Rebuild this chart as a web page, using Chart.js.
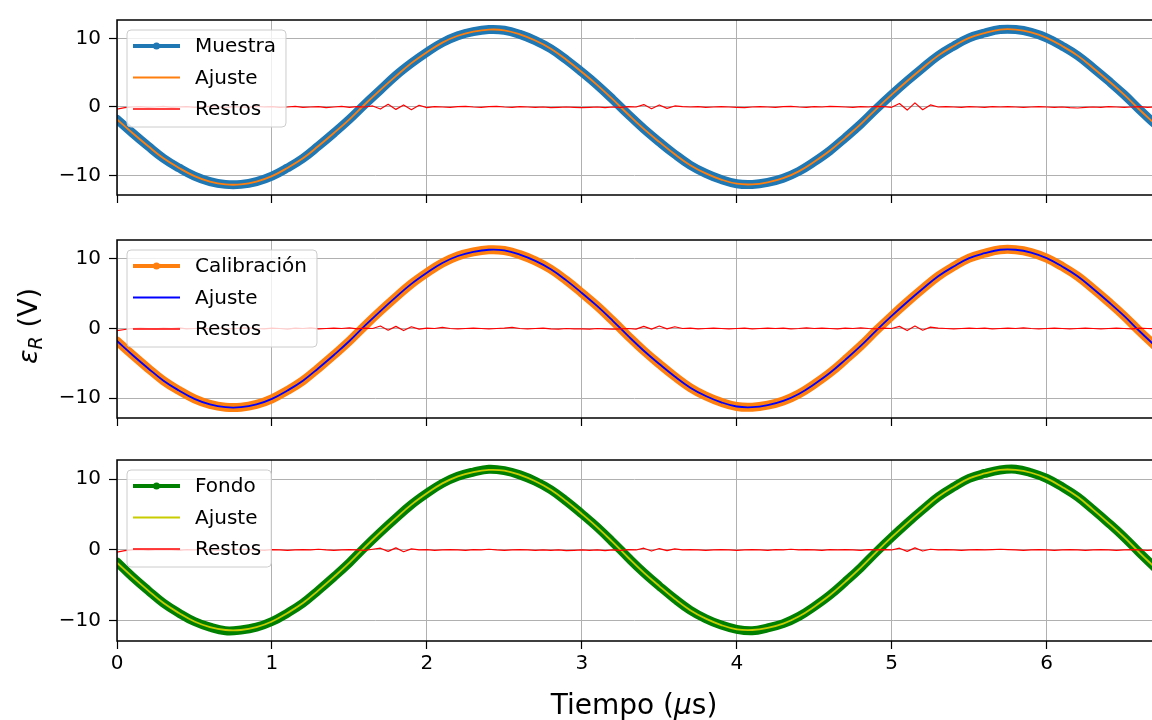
<!DOCTYPE html>
<html>
<head>
<meta charset="utf-8">
<script src="https://cdn.jsdelivr.net/npm/chart.js@4.4.1/dist/chart.umd.min.js"></script>
<style>
  body { margin: 0; background: #fff; }
  #wrap { position: relative; width: 1152px; height: 720px; overflow: hidden; font-family: 'DejaVu Sans', sans-serif; color: #000; }
  canvas { position: absolute; left: 0; }
  #ylabel { position: absolute; left: 29px; top: 326px; transform: translate(-50%, -50%) rotate(-90deg); font-size: 27px; white-space: nowrap; }
  #ylabel sub { font-size: 19px; font-style: italic; vertical-align: -5px; }
  #xlabel { position: absolute; left: 634px; top: 704px; transform: translate(-50%, -50%); font-size: 28px; white-space: nowrap; }
</style>
</head>
<body>
<div id="wrap">
  <canvas id="p1" width="1152" height="215" style="top:0px"></canvas>
  <canvas id="p2" width="1152" height="218" style="top:220px"></canvas>
  <canvas id="p3" width="1152" height="250" style="top:440px"></canvas>
  <div id="ylabel"><i>ε</i><sub>R</sub> (V)</div>
  <div id="xlabel">Tiempo (<i>μ</i>s)</div>
</div>
<script>
// eje x (µs)
const tiempo = [0,0.1,0.2,0.3,0.4,0.5,0.6,0.7,0.8,0.9,1.0,1.1,1.2,1.3,1.4,1.5,1.6,1.7,1.8,1.9,
  2.0,2.1,2.2,2.3,2.4,2.5,2.6,2.7,2.8,2.9,3.0,3.1,3.2,3.3,3.4,3.5,3.6,3.7,3.8,3.9,
  4.0,4.1,4.2,4.3,4.4,4.5,4.6,4.7,4.8,4.9,5.0,5.1,5.2,5.3,5.4,5.5,5.6,5.7,5.8,5.9,
  6.0,6.1,6.2,6.3,6.4,6.5,6.6,6.7];

const tiempoRestos = [0,0.05,0.1,0.15,0.2,0.25,0.3,0.35,0.4,0.45,0.5,0.55,0.6,0.65,0.7,0.75,0.8,0.85,0.9,0.95,
  1.0,1.05,1.1,1.15,1.2,1.25,1.3,1.35,1.4,1.45,1.5,1.55,1.6,1.65,1.7,1.75,1.8,1.85,1.9,1.95,
  2.0,2.05,2.1,2.15,2.2,2.25,2.3,2.35,2.4,2.45,2.5,2.55,2.6,2.65,2.7,2.75,2.8,2.85,2.9,2.95,
  3.0,3.05,3.1,3.15,3.2,3.25,3.3,3.35,3.4,3.45,3.5,3.55,3.6,3.65,3.7,3.75,3.8,3.85,3.9,3.95,
  4.0,4.05,4.1,4.15,4.2,4.25,4.3,4.35,4.4,4.45,4.5,4.55,4.6,4.65,4.7,4.75,4.8,4.85,4.9,4.95,
  5.0,5.05,5.1,5.15,5.2,5.25,5.3,5.35,5.4,5.45,5.5,5.55,5.6,5.65,5.7,5.75,5.8,5.85,5.9,5.95,
  6.0,6.05,6.1,6.15,6.2,6.25,6.3,6.35,6.4,6.45,6.5,6.55,6.6,6.65,6.7];

// señales medidas (V)
const muestra = [-1.8,-3.8,-5.7,-7.5,-8.9,-10.1,-10.9,-11.3,-11.3,-10.9,
  -10.1,-8.9,-7.5,-5.7,-3.8,-1.8,0.4,2.5,4.6,6.4,
  8.0,9.4,10.4,11.0,11.3,11.2,10.6,9.7,8.5,6.9,
  5.1,3.2,1.1,-1.1,-3.2,-5.1,-6.9,-8.5,-9.7,-10.6,
  -11.2,-11.3,-11.0,-10.4,-9.4,-8.0,-6.4,-4.5,-2.5,-0.3,
  1.8,3.8,5.7,7.5,8.9,10.1,10.8,11.3,11.3,10.9,
  10.1,8.9,7.5,5.7,3.8,1.8,-0.4,-2.5];

const calibracion = [-1.8,-3.8,-5.7,-7.5,-8.9,-10.1,-10.9,-11.3,-11.3,-10.9,
  -10.1,-8.9,-7.5,-5.7,-3.8,-1.8,0.4,2.5,4.5,6.4,
  8.0,9.4,10.4,11.0,11.3,11.2,10.6,9.7,8.5,6.9,
  5.1,3.2,1.1,-1.1,-3.2,-5.1,-6.9,-8.5,-9.7,-10.6,
  -11.2,-11.3,-11.0,-10.4,-9.4,-8.0,-6.4,-4.5,-2.5,-0.3,
  1.8,3.8,5.7,7.5,8.9,10.1,10.8,11.3,11.3,10.9,
  10.1,8.9,7.5,5.7,3.8,1.8,-0.4,-2.5];

const fondo = [-1.7,-3.8,-5.7,-7.5,-8.9,-10.1,-10.9,-11.4,-11.3,-10.9,
  -10.1,-8.9,-7.5,-5.7,-3.8,-1.8,0.4,2.5,4.5,6.4,
  8.0,9.4,10.4,11.0,11.4,11.2,10.6,9.7,8.5,6.9,
  5.1,3.2,1.1,-1.1,-3.2,-5.1,-6.9,-8.5,-9.7,-10.6,
  -11.2,-11.4,-11.0,-10.4,-9.4,-8.0,-6.4,-4.5,-2.5,-0.3,
  1.8,3.8,5.7,7.5,8.9,10.1,10.8,11.3,11.4,10.9,
  10.1,8.9,7.5,5.7,3.8,1.8,-0.4,-2.5];

// ajuste sinusoidal (V)
const ajuste = [-1.8,-3.8,-5.7,-7.5,-8.9,-10.1,-10.9,-11.3,-11.3,-10.9,
  -10.1,-8.9,-7.5,-5.7,-3.8,-1.8,0.4,2.5,4.5,6.4,
  8.0,9.4,10.4,11.0,11.3,11.2,10.6,9.7,8.5,6.9,
  5.1,3.2,1.1,-1.1,-3.2,-5.1,-6.9,-8.5,-9.7,-10.6,
  -11.2,-11.3,-11.0,-10.4,-9.4,-8.0,-6.4,-4.5,-2.5,-0.3,
  1.8,3.8,5.7,7.5,8.9,10.1,10.8,11.3,11.3,10.9,
  10.1,8.9,7.5,5.7,3.8,1.8,-0.4,-2.5];

// residuos (V)
const restosMuestra = [-0.3,-0.1,0.0,0.05,-0.05,0.0,0.1,-0.05,0.0,0.05,
  -0.05,0.0,0.1,0.0,-0.1,0.05,0.0,-0.05,0.1,0.0,
  0.05,-0.05,0.0,0.1,-0.05,0.0,0.05,-0.1,0.0,0.1,
  -0.05,0.05,0.0,0.15,-0.3,0.4,-0.35,0.3,-0.4,0.25,
  -0.1,0.05,0.0,-0.05,0.05,0.1,0.0,-0.05,0.05,0.1,
  0.0,-0.05,0.05,0.0,-0.05,0.0,-0.1,-0.05,0.0,-0.05,
  -0.1,-0.05,0.0,-0.1,0.0,-0.05,0.05,0.0,0.35,-0.25,
  0.3,-0.2,0.15,0.05,0.0,0.05,-0.05,0.0,0.05,0.0,
  -0.05,-0.1,0.0,0.05,0.0,-0.05,0.05,0.1,0.0,-0.05,
  0.05,0.0,0.1,0.05,0.0,-0.05,0.05,0.0,0.1,0.05,
  -0.05,0.5,-0.45,0.6,-0.4,0.3,0.0,0.05,0.0,-0.05,
  0.05,0.0,-0.05,0.05,0.0,0.05,0.0,-0.05,0.0,0.05,
  0.0,-0.05,0.0,-0.1,-0.15,-0.05,0.0,-0.05,0.05,0.0,
  -0.05,0.0,0.05,-0.05,0.0];

const restosCalibracion = [-0.3,-0.15,0.0,0.05,0.0,-0.05,0.05,0.0,0.1,-0.05,
  0.0,0.05,-0.05,0.1,0.0,-0.05,0.05,0.1,0.0,-0.05,
  0.05,0.0,-0.1,0.05,0.0,0.1,-0.05,0.0,0.05,0.0,
  0.1,-0.05,0.05,0.0,0.35,-0.25,0.3,-0.3,0.25,-0.1,
  0.05,0.0,0.15,0.0,-0.05,0.0,0.05,0.0,-0.05,0.0,
  0.05,0.15,0.0,-0.05,0.0,0.05,-0.05,-0.1,0.0,-0.05,
  -0.05,-0.1,0.0,-0.05,-0.1,-0.05,0.0,-0.1,0.3,-0.1,
  0.35,-0.05,0.25,0.0,0.05,-0.05,0.0,0.05,0.0,-0.05,
  0.0,0.05,-0.05,0.0,0.05,0.0,0.05,-0.05,0.0,0.1,
  0.0,0.05,0.0,-0.05,0.05,0.0,0.1,0.0,-0.05,0.05,
  0.0,0.3,-0.3,0.35,-0.25,0.2,0.05,0.0,-0.05,0.0,
  0.05,0.0,0.05,-0.05,0.0,0.05,0.0,0.1,0.0,-0.05,
  0.0,0.05,0.0,-0.05,0.0,0.05,0.0,-0.05,0.0,0.05,
  0.0,-0.05,0.05,0.0,-0.05];

const restosFondo = [-0.3,-0.1,0.0,0.05,-0.05,0.0,0.05,0.0,-0.05,0.05,
  0.0,0.1,0.0,-0.05,0.05,0.0,0.1,0.05,0.0,-0.05,
  0.05,0.0,-0.05,0.0,0.05,0.0,0.1,0.0,-0.05,0.0,
  0.05,0.0,-0.05,0.1,0.25,-0.2,0.3,-0.25,0.15,0.0,
  0.05,-0.05,0.0,0.05,0.0,-0.05,0.05,0.0,0.1,0.0,
  -0.05,0.0,0.05,0.0,-0.05,0.0,-0.05,0.0,-0.1,-0.05,
  0.0,-0.05,0.0,-0.1,0.0,-0.05,0.05,0.0,0.25,-0.15,
  0.2,-0.1,0.15,0.0,0.05,0.0,-0.05,0.0,0.05,0.0,
  -0.05,0.0,0.05,0.0,-0.05,0.05,0.0,0.1,0.0,0.05,
  0.0,-0.05,0.05,0.0,0.05,0.0,-0.05,0.05,0.0,0.05,
  0.0,0.25,-0.2,0.3,-0.15,0.1,0.0,0.05,0.0,-0.05,
  0.0,0.05,0.0,0.05,0.1,0.05,0.0,-0.05,0.0,0.05,
  0.0,-0.05,0.0,0.05,0.0,-0.05,0.0,0.05,0.0,-0.05,
  0.0,0.05,0.0,-0.05,0.0];

const xTicks = [0, 1, 2, 3, 4, 5, 6];
const yTicks = [-10, 0, 10];
const leyendaMuestra = ['Muestra', 'Ajuste', 'Restos'];
const leyendaCalibracion = ['Calibración', 'Ajuste', 'Restos'];
const leyendaFondo = ['Fondo', 'Ajuste', 'Restos'];

const FONT = "'DejaVu Sans', sans-serif";
const pts = (xs, ys) => xs.map((x, i) => ({ x: x, y: ys[i] }));
const fmt = v => (v < 0 ? '\u2212' + Math.abs(v) : String(v));

// marco superior/izquierdo/inferior como los ejes de matplotlib
const frame = {
  id: 'frame',
  afterDatasetsDraw(chart) {
    const { ctx, chartArea: a } = chart;
    ctx.save();
    ctx.strokeStyle = '#000';
    ctx.lineWidth = 1.5;
    ctx.beginPath();
    ctx.moveTo(a.right + 2, a.top);
    ctx.lineTo(a.left, a.top);
    ctx.lineTo(a.left, a.bottom);
    ctx.lineTo(a.right + 2, a.bottom);
    ctx.stroke();
    ctx.restore();
  }
};

// leyenda dentro del área, arriba a la izquierda
const boxLegend = {
  id: 'boxLegend',
  afterDraw(chart) {
    const { ctx, chartArea: a } = chart;
    const items = chart.data.datasets.slice().sort((p, q) => q.order - p.order);
    ctx.save();
    ctx.font = '20px ' + FONT;
    const tw = Math.max(...items.map(d => ctx.measureText(d.label).width));
    const x0 = a.left + 10, y0 = a.top + 10, w = 68 + tw + 10, h = 97, r = 4;
    ctx.beginPath();
    ctx.moveTo(x0 + r, y0);
    ctx.arcTo(x0 + w, y0, x0 + w, y0 + h, r);
    ctx.arcTo(x0 + w, y0 + h, x0, y0 + h, r);
    ctx.arcTo(x0, y0 + h, x0, y0, r);
    ctx.arcTo(x0, y0, x0 + w, y0, r);
    ctx.closePath();
    ctx.fillStyle = 'rgba(255,255,255,0.8)';
    ctx.fill();
    ctx.strokeStyle = '#cccccc';
    ctx.lineWidth = 1;
    ctx.stroke();
    items.forEach((d, i) => {
      const yy = y0 + 16 + i * 31.5;
      ctx.strokeStyle = d.borderColor;
      ctx.lineWidth = i === 0 ? 4 : (i === 1 ? 2 : 1.5);
      ctx.beginPath();
      ctx.moveTo(x0 + 6, yy);
      ctx.lineTo(x0 + 53, yy);
      ctx.stroke();
      if (i === 0) {
        ctx.fillStyle = d.borderColor;
        ctx.beginPath();
        ctx.arc(x0 + 29.5, yy, 3.5, 0, Math.PI * 2);
        ctx.fill();
      }
      ctx.fillStyle = '#000';
      ctx.textBaseline = 'middle';
      ctx.fillText(d.label, x0 + 68, yy + 1);
    });
    ctx.restore();
  }
};

function panel(id, p) {
  new Chart(document.getElementById(id), {
    type: 'line',
    data: {
      datasets: [
        { label: p.nombres[0], data: pts(tiempo, p.senal), borderColor: p.colores[0], borderWidth: 9, order: 3 },
        { label: p.nombres[1], data: pts(tiempo, ajuste), borderColor: p.colores[1], borderWidth: 1.8, order: 2 },
        { label: p.nombres[2], data: pts(tiempoRestos, p.restos), borderColor: '#ff0000', borderWidth: 1.2, order: 1, tension: 0 }
      ]
    },
    options: {
      responsive: false,
      animation: false,
      devicePixelRatio: 1,
      layout: { padding: { top: p.top, left: 0, right: 0, bottom: 0 } },
      elements: { point: { radius: 0 }, line: { tension: 0.4, borderCapStyle: 'round', borderJoinStyle: 'round' } },
      plugins: { legend: { display: false }, tooltip: { enabled: false } },
      scales: {
        x: {
          type: 'linear', min: 0, max: 6.68,
          afterBuildTicks: s => { s.ticks = xTicks.map(v => ({ value: v })); },
          afterFit: s => { s.height = p.xh; },
          grid: { color: '#b0b0b0', lineWidth: 1, tickColor: '#000', tickLength: 8, tickWidth: 1.2 },
          border: { display: false },
          ticks: { display: p.etiquetasX, color: '#000', font: { family: FONT, size: 20 }, padding: 3, maxRotation: 0 }
        },
        y: {
          min: -12.85, max: 12.7,
          afterBuildTicks: s => { s.ticks = yTicks.map(v => ({ value: v })); },
          afterFit: s => { s.width = 117; },
          grid: { color: '#b0b0b0', lineWidth: 1, tickColor: '#000', tickLength: 8, tickWidth: 1.2 },
          border: { display: false },
          ticks: { color: '#000', font: { family: FONT, size: 20 }, padding: 8, callback: fmt }
        }
      }
    },
    plugins: [frame, boxLegend]
  });
}

panel('p1', { senal: muestra, restos: restosMuestra, nombres: leyendaMuestra, colores: ['#1f77b4', '#ff7f0e'], top: 10, xh: 20, etiquetasX: false });
panel('p2', { senal: calibracion, restos: restosCalibracion, nombres: leyendaCalibracion, colores: ['#ff7f0e', '#0000ff'], top: 13, xh: 20, etiquetasX: false });
panel('p3', { senal: fondo, restos: restosFondo, nombres: leyendaFondo, colores: ['#008000', '#c8cc00'], top: 15, xh: 49, etiquetasX: true });
</script>
</body>
</html>
